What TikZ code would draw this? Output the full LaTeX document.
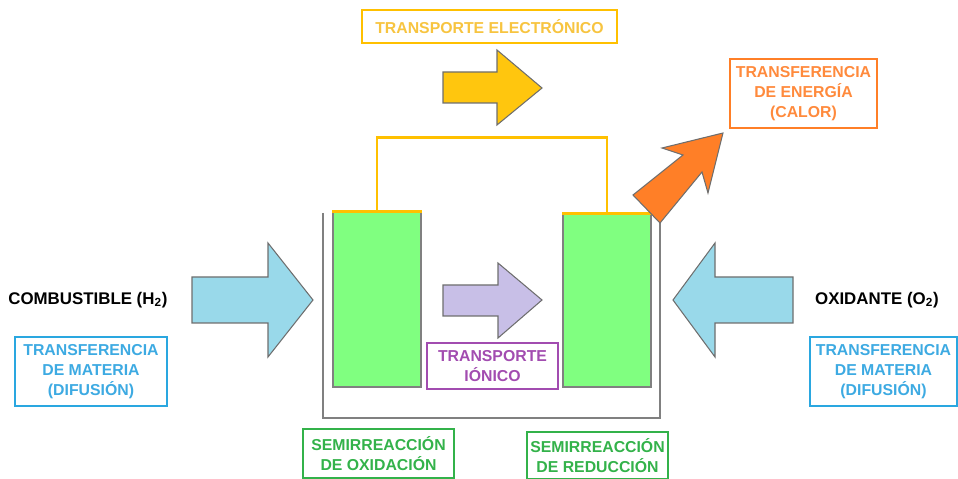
\documentclass[tikz,border=0pt]{standalone}
\usepackage{fontspec}
\setmainfont{Liberation Sans}
\usetikzlibrary{positioning}

\definecolor{oro}{HTML}{FFC000}
\definecolor{orotxt}{HTML}{F7C440}
\definecolor{flechaoro}{HTML}{FFC60E}
\definecolor{naranja}{HTML}{FF7F27}
\definecolor{naranjatxt}{HTML}{FF8A3C}
\definecolor{celeste}{HTML}{99D9EA}
\definecolor{azul}{HTML}{2AA7E0}
\definecolor{azultxt}{HTML}{3DAAE2}
\definecolor{verde}{HTML}{80FF80}
\definecolor{verdecaja}{HTML}{33B24A}
\definecolor{morado}{HTML}{A24CB0}
\definecolor{lavanda}{HTML}{C8BFE7}
\definecolor{bordegris}{HTML}{6E6E6E}

\begin{document}
\begin{tikzpicture}[x=0.02cm,y=-0.02cm,
	caja/.style={draw, line width=1.5pt, align=center, inner sep=0pt,
		font=\bfseries\fontsize{9}{11.3}\selectfont},
	rotulo/.style={font=\bfseries\fontsize{9.6}{11.3}\selectfont},
	flecha/.style={draw=bordegris, line width=0.6pt, line join=miter},
	electrodo/.style={draw=gray, line width=0.6pt, fill=verde, inner sep=0pt}]

	\useasboundingbox (0,0) rectangle (958,479);

	% recipiente
	\draw [gray, line width=0.8pt] (323,213) |- (660,418) -- (660,215);

	% electrodos
	\node (anodo) [electrodo, minimum width=1.76cm, minimum height=3.5cm] at (377,299.5) {};
	\node (catodo) [electrodo, minimum width=1.76cm, minimum height=3.46cm] at (607,300.5) {};
	\draw [oro, line width=1.5pt] (anodo.north west) -- (anodo.north east);
	\draw [oro, line width=1.5pt] (catodo.north west) -- (catodo.north east);
	\draw [oro, line width=1.5pt] (anodo.north) -- ++(0,-74) -| (catodo.north);

	% flechas
	\filldraw [flecha, fill=celeste] (192,277) -- (268,277) -- (268,243) -- (313,300)
		-- (268,357) -- (268,323) -- (192,323) -- cycle;
	\filldraw [flecha, fill=celeste] (793,277) -- (715,277) -- (715,243) -- (673,300)
		-- (715,357) -- (715,323) -- (793,323) -- cycle;
	\filldraw [flecha, fill=flechaoro] (443,72) -- (497,72) -- (497,50) -- (542,88)
		-- (497,125) -- (497,103) -- (443,103) -- cycle;
	\filldraw [flecha, fill=lavanda] (443,285) -- (498,285) -- (498,263) -- (542,300)
		-- (498,338) -- (498,316) -- (443,316) -- cycle;
	\filldraw [flecha, fill=naranja] (723,133) -- (662,148) -- (683,155) -- (633,195)
		-- (660,223) -- (702,172) -- (708,193) -- cycle;

	% textos
	\node (etrans) [caja, draw=oro, text=orotxt, minimum width=5.1cm, minimum height=0.66cm] at (489.5,26.5) {TRANSPORTE ELECTRÓNICO};
	\node (energia) [caja, draw=naranja, text=naranjatxt, minimum width=2.94cm, minimum height=1.38cm] at (803.5,93.5) {TRANSFERENCIA\\DE ENERGÍA\\(CALOR)};
	\node (comb) [rotulo] at (88,300) {COMBUSTIBLE (H\textsubscript{2})};
	\node (oxid) [rotulo] at (877,300) {OXIDANTE (O\textsubscript{2})};
	\node (matizq) [caja, draw=azul, text=azultxt, minimum width=3.04cm, minimum height=1.38cm] at (91,371.5) {TRANSFERENCIA\\DE MATERIA\\(DIFUSIÓN)};
	\node (matder) [caja, draw=azul, text=azultxt, minimum width=2.94cm, minimum height=1.38cm] at (883.5,371.5) {TRANSFERENCIA\\DE MATERIA\\(DIFUSIÓN)};
	\node (ionico) [caja, draw=morado, text=morado, minimum width=2.62cm, minimum height=0.92cm] at (492.5,366) {TRANSPORTE\\IÓNICO};
	\node (oxidac) [caja, draw=verdecaja, text=verdecaja, minimum width=3.02cm, minimum height=0.98cm] at (378.5,453.5) {SEMIRREACCIÓN\\DE OXIDACIÓN};
	\node (reduc) [caja, draw=verdecaja, text=verdecaja, minimum width=2.82cm, minimum height=0.94cm] at (597.5,455.5) {SEMIRREACCIÓN\\DE REDUCCIÓN};

\end{tikzpicture}
\end{document}
